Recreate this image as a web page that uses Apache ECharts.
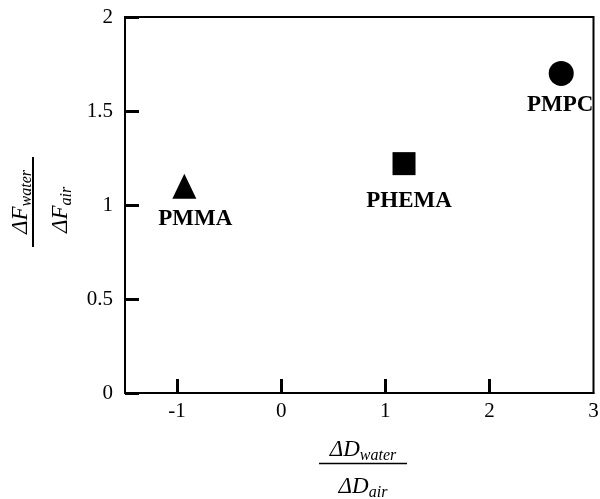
<!DOCTYPE html>
<html>
<head>
<meta charset="utf-8">
<script src="https://cdn.jsdelivr.net/npm/echarts@6/dist/echarts.min.js"></script>
<style>
  html, body { margin: 0; padding: 0; background: #fff; }
  #chart { width: 600px; height: 499px; }
</style>
</head>
<body>
<div id="chart"></div>
<script>
// Polymer coatings: ratio of dissipation shift vs ratio of frequency shift (water / air)
const polymers = ['PMMA', 'PHEMA', 'PMPC'];
const dissipationRatio = [-0.93, 1.18, 2.69];   // ΔD_water / ΔD_air
const frequencyRatio = [1.10, 1.22, 1.70];      // ΔF_water / ΔF_air
const xLabelValues = [-1, 0, 1, 2, 3];
const xTickValues = [-1, 0, 1, 2];

// Marker appearance per polymer
const markerShapes = ['triangle', 'rect', 'circle'];
const markerSizes = [[24, 25], 23, 25];
const labelOffsets = [[11, 33], [5, 37], [-1, 32]];

const SERIF = '"Liberation Serif", "Times New Roman", serif';
const measureCtx = document.createElement('canvas').getContext('2d');
function widthOf(str, size) {
  measureCtx.font = 'italic ' + size + 'px ' + SERIF;
  return measureCtx.measureText(str).width;
}

// Text pieces "Δ<Main><sub>" laid out left-to-right from x0 on a given baseline
function quantity(main, sub, x0, baseline, mainSize, subSize, subDrop) {
  const w = widthOf(main, mainSize);
  return [
    { type: 'text', x: x0, y: baseline - 0.3 * mainSize,
      style: { text: main, font: 'italic ' + mainSize + 'px ' + SERIF, fill: '#000',
               align: 'left', verticalAlign: 'middle', textAlign: 'left', textVerticalAlign: 'middle' } },
    { type: 'text', x: x0 + w, y: baseline + subDrop - 0.3 * subSize,
      style: { text: sub, font: 'italic ' + subSize + 'px ' + SERIF, fill: '#000',
               align: 'left', verticalAlign: 'middle', textAlign: 'left', textVerticalAlign: 'middle' } }
  ];
}
function quantityWidth(main, sub, mainSize, subSize) {
  return widthOf(main, mainSize) + widthOf(sub, subSize);
}

const MAIN = 23, SUB = 16;

// x-axis title: ΔD_water / ΔD_air, centred under the plot
const xc = 363;
const xNumW = quantityWidth('ΔD', 'water', MAIN, SUB);
const xDenW = quantityWidth('ΔD', 'air', MAIN, SUB);
const xTitle = {
  type: 'group',
  children: [].concat(
    quantity('ΔD', 'water', xc - xNumW / 2, 457, MAIN, SUB, 4),
    [{ type: 'line', shape: { x1: 319, y1: 463.5, x2: 407, y2: 463.5 },
       style: { stroke: '#000', lineWidth: 1.5 } }],
    quantity('ΔD', 'air', xc - xDenW / 2, 494, MAIN, SUB, 4)
  )
};

// y-axis title: ΔF_water / ΔF_air, rotated to read bottom-to-top
const yNumW = quantityWidth('ΔF', 'water', MAIN, SUB);
const yDenW = quantityWidth('ΔF', 'air', MAIN, SUB);
const yTitle = {
  type: 'group',
  x: 33, y: 202, rotation: Math.PI / 2,
  children: [].concat(
    quantity('ΔF', 'water', -yNumW / 2, -5, MAIN, SUB, 4),
    [{ type: 'line', shape: { x1: -45, y1: 0, x2: 45, y2: 0 },
       style: { stroke: '#000', lineWidth: 2 } }],
    quantity('ΔF', 'air', -yDenW / 2 - 8, 35, MAIN, SUB, 4)
  )
};

const points = polymers.map((name, i) => ({
  name: name,
  value: [dissipationRatio[i], frequencyRatio[i]],
  symbol: markerShapes[i],
  symbolSize: markerSizes[i],
  label: { offset: labelOffsets[i] }
}));

const chart = echarts.init(document.getElementById('chart'), null, { renderer: 'canvas' });
chart.setOption({
  animation: false,
  backgroundColor: '#fff',
  grid: {
    left: 125, right: 6.5, top: 17, bottom: 106,
    containLabel: false, outerBoundsMode: 'none',
    show: true, borderColor: '#000', borderWidth: 2, backgroundColor: 'transparent'
  },
  xAxis: {
    type: 'value', min: -1.5, max: 3,
    axisLine: { show: true, onZero: false, lineStyle: { color: '#000', width: 2 } },
    axisTick: { show: true, inside: true, length: 14, customValues: xTickValues,
                lineStyle: { color: '#000', width: 3 } },
    axisLabel: { customValues: xLabelValues, margin: 8, color: '#000',
                 fontFamily: SERIF, fontSize: 21 },
    splitLine: { show: false }
  },
  yAxis: {
    type: 'value', min: 0, max: 2, interval: 0.5,
    axisLine: { show: true, onZero: false, lineStyle: { color: '#000', width: 2 } },
    axisTick: { show: true, inside: true, length: 14,
                lineStyle: { color: '#000', width: 3 } },
    axisLabel: { margin: 12, color: '#000', fontFamily: SERIF, fontSize: 21 },
    splitLine: { show: false }
  },
  series: [{
    type: 'scatter',
    data: points,
    itemStyle: { color: '#000', opacity: 1 },
    label: {
      show: true, position: 'inside', formatter: '{b}',
      color: '#000', fontFamily: SERIF, fontWeight: 'bold', fontSize: 23
    }
  }],
  graphic: [xTitle, yTitle]
});
</script>
</body>
</html>
